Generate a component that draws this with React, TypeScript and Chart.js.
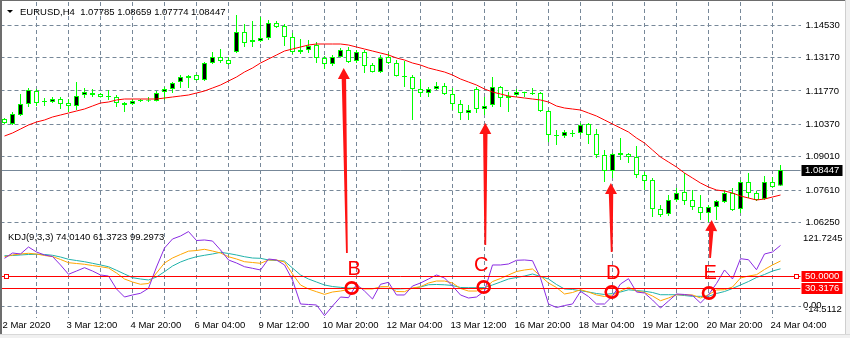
import React, { useEffect, useRef } from 'react';
import { Chart, registerables } from 'chart.js';

Chart.register(...registerables);

const SYMBOL = 'EURUSD,H4';
const KDJ_NAME = 'KDJ(9,3,3)';
const TIME_LABELS = [
  '2 Mar 2020', '3 Mar 12:00', '4 Mar 20:00', '6 Mar 04:00', '9 Mar 12:00', '10 Mar 20:00',
  '12 Mar 04:00', '13 Mar 12:00', '16 Mar 20:00', '18 Mar 04:00', '19 Mar 12:00', '20 Mar 20:00', '24 Mar 04:00',
];
const LABEL_EVERY = 8;
const GRID_EVERY = 4;
const SLOT_COUNT = 100;

const OPEN = [
  1.10593, 1.10383, 1.10761, 1.11223, 1.11769, 1.11349, 1.11307, 1.11433, 1.11265, 1.11139,
  1.11601, 1.11685, 1.11643, 1.11559, 1.11517, 1.11265, 1.11223, 1.11391, 1.11405, 1.11349,
  1.11727, 1.11853, 1.12147, 1.12399, 1.12441, 1.12231, 1.12945, 1.13197, 1.13071, 1.13407,
  1.14247, 1.13827, 1.13869, 1.13995, 1.14625, 1.14499, 1.14037, 1.13407, 1.13491, 1.13701,
  1.13155, 1.12903, 1.13197, 1.13491, 1.13029, 1.13407, 1.12861, 1.12567, 1.13197, 1.12945,
  1.12399, 1.12357, 1.11853, 1.11685, 1.11853, 1.11979, 1.11643, 1.11223, 1.10845, 1.11853,
  1.11013, 1.11181, 1.11937, 1.11475, 1.11601, 1.11727, 1.11690, 1.11685, 1.10929, 1.09921,
  1.09879, 1.10005, 1.10005, 1.10383, 1.09963, 1.09081, 1.08409, 1.09165, 1.09123, 1.08997,
  1.08241, 1.08031, 1.06813, 1.06603, 1.07191, 1.07527, 1.07191, 1.06897, 1.06645, 1.06897,
  1.07107, 1.07485, 1.06813, 1.07947, 1.07485, 1.07233, 1.07947, 1.07785,
];
const HIGH = [
  1.10635, 1.10887, 1.11643, 1.11895, 1.11853, 1.11475, 1.11517, 1.11517, 1.11433, 1.12147,
  1.11895, 1.11853, 1.11685, 1.11811, 1.11601, 1.11307, 1.11433, 1.11433, 1.11517, 1.11769,
  1.11937, 1.12147, 1.12441, 1.12441, 1.12460, 1.12987, 1.13407, 1.13533, 1.13197, 1.14961,
  1.14583, 1.14709, 1.14877, 1.14751, 1.14709, 1.14583, 1.14205, 1.13953, 1.13911, 1.13827,
  1.13239, 1.13281, 1.13575, 1.13617, 1.13491, 1.13491, 1.12945, 1.13281, 1.13365, 1.13071,
  1.13029, 1.12441, 1.12273, 1.11937, 1.12147, 1.12105, 1.11895, 1.11391, 1.11181, 1.11937,
  1.11517, 1.12357, 1.11979, 1.11727, 1.11853, 1.11740, 1.11895, 1.11727, 1.10971, 1.10131,
  1.10131, 1.10131, 1.10425, 1.10425, 1.10173, 1.09291, 1.09165, 1.09795, 1.09165, 1.09459,
  1.08367, 1.08115, 1.06981, 1.07401, 1.07695, 1.08325, 1.07611, 1.07401, 1.06981, 1.07191,
  1.07611, 1.07695, 1.08031, 1.08325, 1.07569, 1.08199, 1.08157, 1.08659,
];
const LOW = [
  1.10383, 1.10341, 1.10719, 1.11097, 1.11139, 1.11139, 1.11265, 1.11013, 1.10887, 1.10971,
  1.11475, 1.11517, 1.11500, 1.11391, 1.11097, 1.10887, 1.11181, 1.11307, 1.11307, 1.11330,
  1.11391, 1.11685, 1.11895, 1.11895, 1.12210, 1.12189, 1.12903, 1.12945, 1.12861, 1.13365,
  1.13617, 1.13617, 1.13827, 1.13911, 1.14415, 1.13659, 1.13323, 1.13323, 1.13365, 1.12945,
  1.12693, 1.12819, 1.13180, 1.12945, 1.12945, 1.12525, 1.12550, 1.12525, 1.12903, 1.12380,
  1.11937, 1.10551, 1.11517, 1.11517, 1.11811, 1.11601, 1.10971, 1.10551, 1.10551, 1.10845,
  1.10761, 1.11097, 1.11097, 1.10887, 1.11517, 1.11517, 1.11601, 1.10887, 1.09627, 1.09501,
  1.09795, 1.09837, 1.09921, 1.09543, 1.08955, 1.07947, 1.08115, 1.08871, 1.08745, 1.08115,
  1.07611, 1.06477, 1.06477, 1.06519, 1.07107, 1.06981, 1.06771, 1.06351, 1.06267, 1.06351,
  1.07065, 1.06729, 1.06645, 1.07275, 1.07149, 1.07191, 1.07720, 1.07774,
];
const CLOSE = [
  1.10425, 1.10803, 1.11223, 1.11811, 1.11265, 1.11307, 1.11433, 1.11223, 1.11139, 1.11559,
  1.11727, 1.11601, 1.11517, 1.11517, 1.11265, 1.11181, 1.11349, 1.11349, 1.11363, 1.11685,
  1.11853, 1.12105, 1.12357, 1.12315, 1.12231, 1.12945, 1.13197, 1.13029, 1.12903, 1.14247,
  1.13785, 1.13911, 1.13995, 1.14625, 1.14457, 1.14037, 1.13407, 1.13491, 1.13659, 1.13155,
  1.12903, 1.13197, 1.13491, 1.12987, 1.13407, 1.12819, 1.12567, 1.13155, 1.12945, 1.12399,
  1.12357, 1.11853, 1.11685, 1.11853, 1.11979, 1.11643, 1.11223, 1.10845, 1.10971, 1.11013,
  1.11139, 1.11937, 1.11475, 1.11559, 1.11727, 1.11685, 1.11648, 1.10929, 1.09921, 1.09879,
  1.10047, 1.09963, 1.10341, 1.09921, 1.09081, 1.08409, 1.09123, 1.09081, 1.08997, 1.08241,
  1.07989, 1.06813, 1.06561, 1.07191, 1.07485, 1.07149, 1.06897, 1.06645, 1.06897, 1.07149,
  1.07485, 1.06771, 1.07947, 1.07485, 1.07191, 1.07947, 1.07737, 1.08447,
];
const MA = [
  1.09879, 1.10005, 1.10173, 1.10341, 1.10467, 1.10551, 1.10677, 1.10761, 1.10845, 1.10929,
  1.11013, 1.11139, 1.11265, 1.11307, 1.11391, 1.11433, 1.11433, 1.11433, 1.11433, 1.11433,
  1.11475, 1.11517, 1.11559, 1.11601, 1.11685, 1.11769, 1.11895, 1.12021, 1.12189, 1.12357,
  1.12567, 1.12735, 1.12945, 1.13113, 1.13281, 1.13449, 1.13533, 1.13617, 1.13701, 1.13743,
  1.13743, 1.13743, 1.13743, 1.13701, 1.13617, 1.13533, 1.13449, 1.13365, 1.13281, 1.13155,
  1.13071, 1.12945, 1.12861, 1.12735, 1.12651, 1.12567, 1.12441, 1.12273, 1.12147, 1.12021,
  1.11853, 1.11727, 1.11643, 1.11559, 1.11517, 1.11475, 1.11433, 1.11391, 1.11307, 1.11139,
  1.11055, 1.11013, 1.10971, 1.10845, 1.10719, 1.10551, 1.10383, 1.10215, 1.10047, 1.09795,
  1.09585, 1.09291, 1.08997, 1.08787, 1.08577, 1.08325, 1.08115, 1.07905, 1.07737, 1.07611,
  1.07569, 1.07485, 1.07359, 1.07275, 1.07191, 1.07233, 1.07317, 1.07401,
];
const K_LINE = [
  81.0, 83.8, 85.4, 86.5, 85.4, 82.9, 81.3, 76.5, 71.3, 70.0,
  68.7, 66.7, 64.8, 62.7, 54.6, 44.9, 40.0, 36.3, 37.6, 54.6,
  70.8, 78.9, 84.6, 90.0, 91.0, 93.0, 90.2, 87.0, 81.0, 77.3,
  72.9, 71.6, 70.3, 75.7, 75.7, 72.4, 53.0, 35.2, 28.7, 24.3,
  20.0, 23.8, 25.4, 27.9, 31.9, 28.7, 28.7, 32.4, 32.4, 24.6,
  24.3, 30.3, 32.4, 38.4, 41.6, 41.6, 38.4, 29.5, 25.4, 25.4,
  29.5, 40.8, 45.7, 51.4, 57.0, 59.5, 61.1, 49.7, 38.4, 31.1,
  20.6, 23.0, 27.5, 23.8, 19.0, 16.5, 19.0, 25.4, 31.4, 25.4,
  23.0, 17.3, 9.7, 14.1, 19.4, 19.4, 19.0, 14.1, 19.4, 27.1,
  27.5, 31.9, 46.5, 49.7, 51.8, 60.3, 67.6, 74.014,
];
const D_LINE = [
  82.6, 82.9, 83.8, 84.6, 84.9, 84.6, 83.3, 80.5, 76.8, 74.8,
  72.9, 70.3, 67.6, 64.8, 59.0, 53.0, 47.0, 44.9, 43.3, 48.1,
  56.7, 65.9, 72.4, 77.3, 81.0, 83.3, 85.4, 88.1, 86.2, 83.8,
  81.0, 78.9, 78.4, 75.7, 74.8, 74.0, 62.7, 51.4, 44.9, 40.0,
  35.2, 32.7, 31.4, 30.3, 29.8, 29.5, 29.5, 29.8, 29.5, 28.7,
  29.2, 29.8, 31.9, 35.6, 36.0, 35.5, 34.3, 31.1, 30.8, 30.8,
  31.1, 35.2, 40.0, 44.9, 47.3, 49.7, 53.0, 48.9, 44.9, 36.0,
  28.7, 27.9, 25.9, 23.8, 21.4, 19.8, 21.4, 23.8, 27.4, 26.2,
  25.1, 23.0, 19.4, 19.4, 19.4, 18.1, 16.8, 16.8, 16.8, 21.4,
  24.6, 29.5, 35.2, 40.8, 47.3, 52.2, 57.8, 61.3723,
];
const J_LINE = [
  78.4, 87.0, 85.4, 96.7, 88.6, 83.8, 81.3, 67.6, 52.5, 57.8,
  63.2, 57.8, 51.4, 49.7, 28.7, 15.7, 19.0, 21.7, 29.8, 64.3,
  95.1, 109.7, 114.5, 121.7245, 107.2, 108.1, 106.4, 91.9, 75.7, 70.8,
  64.8, 62.2, 59.5, 77.3, 75.7, 67.6, 43.3, 4.4, 3.6, 2.8,
  -14.5112, 1.1, 15.7, 14.6, 36.0, 25.4, 12.5, 36.3, 39.5, 19.0,
  19.0, 33.5, 38.4, 44.9, 51.4, 46.5, 33.5, 19.0, 14.1, 15.7,
  25.4, 67.6, 67.6, 69.2, 75.2, 75.7, 74.5, 46.5, 4.4, -1.3,
  1.9, 4.4, 24.9, 16.5, 4.4, 4.4, 17.3, 36.8, 45.4, 23.8,
  22.2, 10.9, -2.1, 9.2, 20.6, 19.8, 18.1, 6.0, 19.4, 37.6,
  59.5, 44.9, 77.8, 76.1, 59.9, 85.4, 88.6, 99.2973,
];

const PRICE_TICKS = [1.1453, 1.1317, 1.1177, 1.1037, 1.0901, 1.0761, 1.0625];
const PRICE_MIN = 1.06015;
const PRICE_MAX = 1.15507;
const KDJ_MIN = -18.3;
const KDJ_MAX = 127.5;
const KDJ_GRID = [0];
const LEVELS = [50, 30.3176];
const LEVEL_MARK_BARS = [0.2, 98.95];

const SIGNAL_LETTERS = ['B', 'C', 'D', 'E'];
const ARROW_TIP_BAR = [42.4, 60.1, 75.8, 88.4];
const ARROW_TIP_PRICE = [1.12735, 1.10425, 1.07905, 1.06351];
const ARROW_BASE_BAR = [42.8, 60.1, 75.9, 88.2];
const ARROW_BASE_KDJ = [87, 100, 88.6, 78.9];
const LETTER_BAR = [43.7, 59.6, 76.1, 88.2];
const LETTER_KDJ = [62.7, 67.6, 56.2, 56.2];
const RING_BAR = [43.4, 59.9, 75.9, 88.06];
const RING_KDJ = [30.3, 31.9, 23.8, 22.2];

const GRID = '#778899';
const CANDLE = '#00ff00';
const FONT = "'Liberation Sans', Arial, sans-serif";
const FS = 9.5;

function drawArrow(ctx: CanvasRenderingContext2D, xt: number, yt: number, xb: number, yb: number) {
  const dx = xt - xb, dy = yt - yb;
  const len = Math.hypot(dx, dy);
  const ux = dx / len, uy = dy / len;
  const px = -uy, py = ux;
  const headLen = 11, headHalf = 6, near = 2.2, far = 0.9;
  const hx = xt - ux * headLen, hy = yt - uy * headLen;
  ctx.beginPath();
  ctx.moveTo(xb + px * far, yb + py * far);
  ctx.lineTo(hx + px * near, hy + py * near);
  ctx.lineTo(hx + px * headHalf, hy + py * headHalf);
  ctx.lineTo(xt, yt);
  ctx.lineTo(hx - px * headHalf, hy - py * headHalf);
  ctx.lineTo(hx - px * near, hy - py * near);
  ctx.lineTo(xb - px * far, yb - py * far);
  ctx.closePath();
  ctx.fill();
}

const overlayPlugin = {
  id: 'mt4Overlay',
  beforeDatasetsDraw(chart: any) {
    const { ctx, chartArea: a, scales } = chart;
    const last = CLOSE[CLOSE.length - 1];
    const py = Math.round(scales.y.getPixelForValue(last)) + 0.5;
    ctx.save();
    ctx.setLineDash([]);
    ctx.strokeStyle = GRID;
    ctx.lineWidth = 1;
    ctx.beginPath();
    ctx.moveTo(0, py);
    ctx.lineTo(a.right, py);
    ctx.stroke();
    ctx.restore();
  },
  afterDatasetsDraw(chart: any) {
    const { ctx, chartArea: a, scales } = chart;
    const x = scales.x, y = scales.y, yk = scales.yk;
    ctx.save();
    ctx.setLineDash([]);
    ctx.strokeStyle = '#ff0000';
    ctx.lineWidth = 1;
    LEVELS.forEach((v) => {
      const py = Math.round(yk.getPixelForValue(v)) + 0.5;
      ctx.beginPath();
      ctx.moveTo(0, py);
      ctx.lineTo(a.right, py);
      ctx.stroke();
    });
    const p0 = Math.round(yk.getPixelForValue(LEVELS[0])) + 0.5;
    LEVEL_MARK_BARS.forEach((b) => {
      const px = Math.round(x.getPixelForValue(b)) + 0.5;
      ctx.fillStyle = '#ffffff';
      ctx.fillRect(px - 2, p0 - 2, 4, 4);
      ctx.strokeRect(px - 2, p0 - 2, 4, 4);
    });
    ctx.fillStyle = '#ff1414';
    SIGNAL_LETTERS.forEach((_, i) => {
      drawArrow(
        ctx,
        x.getPixelForValue(ARROW_TIP_BAR[i]), y.getPixelForValue(ARROW_TIP_PRICE[i]),
        x.getPixelForValue(ARROW_BASE_BAR[i]), yk.getPixelForValue(ARROW_BASE_KDJ[i]),
      );
    });
    ctx.font = `20px ${FONT}`;
    ctx.textAlign = 'center';
    ctx.textBaseline = 'middle';
    ctx.fillStyle = '#ff0000';
    SIGNAL_LETTERS.forEach((t, i) => {
      ctx.fillText(t, x.getPixelForValue(LETTER_BAR[i]), yk.getPixelForValue(LETTER_KDJ[i]) + 1);
    });
    ctx.strokeStyle = '#ff0000';
    ctx.lineWidth = 2.6;
    SIGNAL_LETTERS.forEach((_, i) => {
      ctx.beginPath();
      ctx.ellipse(x.getPixelForValue(RING_BAR[i]), yk.getPixelForValue(RING_KDJ[i]), 6, 5.6, 0, 0, Math.PI * 2);
      ctx.stroke();
    });
    ctx.restore();
  },
  afterDraw(chart: any) {
    const { ctx, chartArea: a, scales } = chart;
    const y = scales.y, yk = scales.yk;
    const n = CLOSE.length - 1;
    ctx.save();
    ctx.font = `${FS}px ${FONT}`;
    ctx.textBaseline = 'middle';
    ctx.textAlign = 'left';
    const titleY = a.top + 10;
    ctx.fillStyle = '#000';
    ctx.beginPath();
    ctx.moveTo(7, titleY - 2);
    ctx.lineTo(13, titleY - 2);
    ctx.lineTo(10, titleY + 1);
    ctx.closePath();
    ctx.fill();
    ctx.fillText(
      `${SYMBOL}  ${OPEN[n].toFixed(5)} ${HIGH[n].toFixed(5)} ${LOW[n].toFixed(5)} ${CLOSE[n].toFixed(5)}`,
      20, titleY,
    );
    ctx.fillText(
      `${KDJ_NAME} ${K_LINE[n].toFixed(4)} ${D_LINE[n].toFixed(4)} ${J_LINE[n].toFixed(4)}`,
      8, yk.top + 9,
    );
    const jMax = Math.max(...J_LINE), jMin = Math.min(...J_LINE);
    ctx.fillText(jMax.toFixed(4), a.right + 2.5, yk.getPixelForValue(jMax) + 6.5);
    ctx.fillText((0).toFixed(2), a.right + 2.5, yk.getPixelForValue(0) - 1.5);
    ctx.fillText(jMin.toFixed(4), a.right + 4.5, yk.getPixelForValue(jMin) - 6.2);
    const tag = (text: string, yMid: number, bg: string) => {
      const top = Math.round(yMid) - 5;
      ctx.fillStyle = bg;
      ctx.fillRect(a.right + 1, top, 41, 11);
      ctx.fillStyle = '#ffffff';
      ctx.fillText(text, a.right + 4.5, top + 5.5);
    };
    tag(CLOSE[n].toFixed(5), y.getPixelForValue(CLOSE[n]), '#000000');
    LEVELS.forEach((v) => tag(v.toFixed(4), yk.getPixelForValue(v), '#ff0000'));
    ctx.restore();
  },
};

const noPad = (s: any) => {
  s.paddingTop = 0;
  s.paddingBottom = 0;
  s.paddingLeft = 0;
  s.paddingRight = 0;
};

export default function App() {
  const ref = useRef<HTMLCanvasElement>(null);
  useEffect(() => {
    const canvas = ref.current;
    if (!canvas) return;
    const categories = Array.from({ length: SLOT_COUNT }, (_, i) =>
      i % LABEL_EVERY === 0 && TIME_LABELS[i / LABEL_EVERY] ? TIME_LABELS[i / LABEL_EVERY] : '',
    );
    const bodies = OPEN.map((o, i) => [o, CLOSE[i]]);
    const wicks = LOW.map((l, i) => [l, HIGH[i]]);
    const bodyFill = OPEN.map((o, i) => (CLOSE[i] > o ? '#000000' : '#ffffff'));
    const chart = new Chart(canvas, {
      type: 'bar',
      data: {
        labels: categories,
        datasets: [
          {
            type: 'bar', label: 'wick', data: wicks as any, yAxisID: 'y',
            backgroundColor: CANDLE, borderWidth: 0, barThickness: 1,
            grouped: false, inflateAmount: 0, order: 10,
          } as any,
          {
            type: 'bar', label: 'body', data: bodies as any, yAxisID: 'y',
            backgroundColor: bodyFill, borderColor: CANDLE, borderWidth: 1, borderSkipped: false,
            barThickness: 5, grouped: false, inflateAmount: 0, order: 9,
          } as any,
          {
            type: 'line', label: 'MA', data: MA, yAxisID: 'y',
            borderColor: '#ff0000', borderWidth: 1, pointRadius: 0, order: 8,
          } as any,
          {
            type: 'line', label: 'D', data: D_LINE, yAxisID: 'yk',
            borderColor: '#20b2aa', borderWidth: 1, pointRadius: 0, order: 7,
          } as any,
          {
            type: 'line', label: 'K', data: K_LINE, yAxisID: 'yk',
            borderColor: '#ffa500', borderWidth: 1, pointRadius: 0, order: 6,
          } as any,
          {
            type: 'line', label: 'J', data: J_LINE, yAxisID: 'yk',
            borderColor: '#8a2be2', borderWidth: 1, pointRadius: 0, order: 5,
          } as any,
        ],
      },
      options: {
        responsive: false,
        animation: false,
        devicePixelRatio: 1,
        events: [],
        layout: { padding: { top: 2, left: 0.5, right: 0, bottom: 0 } },
        plugins: { legend: { display: false }, tooltip: { enabled: false } },
        scales: {
          x: {
            type: 'category',
            offset: true,
            grid: {
              offset: false,
              drawTicks: false,
              lineWidth: 1,
              color: (c: any) => (c.index > 0 && c.index % GRID_EVERY === 0 ? GRID : 'rgba(0,0,0,0)'),
            },
            border: { display: false, dash: [4, 3] },
            ticks: {
              autoSkip: false, maxRotation: 0, minRotation: 0, align: 'start',
              padding: 2, labelOffset: -2, color: '#000', font: { family: FONT, size: FS },
            },
            afterFit: (s: any) => { s.height = 20; noPad(s); },
          },
          y: {
            type: 'linear', position: 'right', stack: 'panes', stackWeight: 226,
            min: PRICE_MIN, max: PRICE_MAX,
            afterBuildTicks: (s: any) => { s.ticks = PRICE_TICKS.map((v) => ({ value: v })); },
            ticks: {
              padding: 5, color: '#000', font: { family: FONT, size: FS },
              callback: (v: any) => Number(v).toFixed(5),
            },
            grid: { color: GRID, drawTicks: false, lineWidth: 1 },
            border: { display: false, dash: [4, 3] },
            afterFit: (s: any) => { s.width = 49.5; noPad(s); },
          },
          yk: {
            type: 'linear', position: 'right', stack: 'panes', stackWeight: 90,
            min: KDJ_MIN, max: KDJ_MAX,
            afterBuildTicks: (s: any) => { s.ticks = KDJ_GRID.map((v) => ({ value: v })); },
            ticks: { display: false },
            grid: { color: GRID, drawTicks: false, lineWidth: 1 },
            border: { display: false, dash: [4, 3] },
            afterFit: (s: any) => { s.width = 49.5; noPad(s); },
          },
        } as any,
      },
      plugins: [overlayPlugin],
    } as any);
    return () => chart.destroy();
  }, []);

  return (
    <div style={{ position: 'absolute', left: 0, top: 0, width: 850, height: 338, background: '#ffffff', overflow: 'hidden' }}>
      <canvas ref={ref} width={850} height={338} style={{ position: 'absolute', left: 0, top: 0, width: 850, height: 338 }} />
      <div style={{ position: 'absolute', left: 0, top: 0, width: 2, height: 334, background: '#6d6d6d' }} />
      <div style={{ position: 'absolute', left: 0, top: 0, width: 845, height: 1, background: '#6d6d6d' }} />
      <div style={{ position: 'absolute', left: 845, top: 0, width: 5, height: 338, background: '#f0f0f0', borderLeft: '1px solid #cfcfcf', boxSizing: 'border-box' }} />
      <div style={{ position: 'absolute', left: 0, top: 334, width: 850, height: 4, background: '#f0f0f0', borderTop: '1px solid #d8d8d8', boxSizing: 'border-box' }} />
    </div>
  );
}
